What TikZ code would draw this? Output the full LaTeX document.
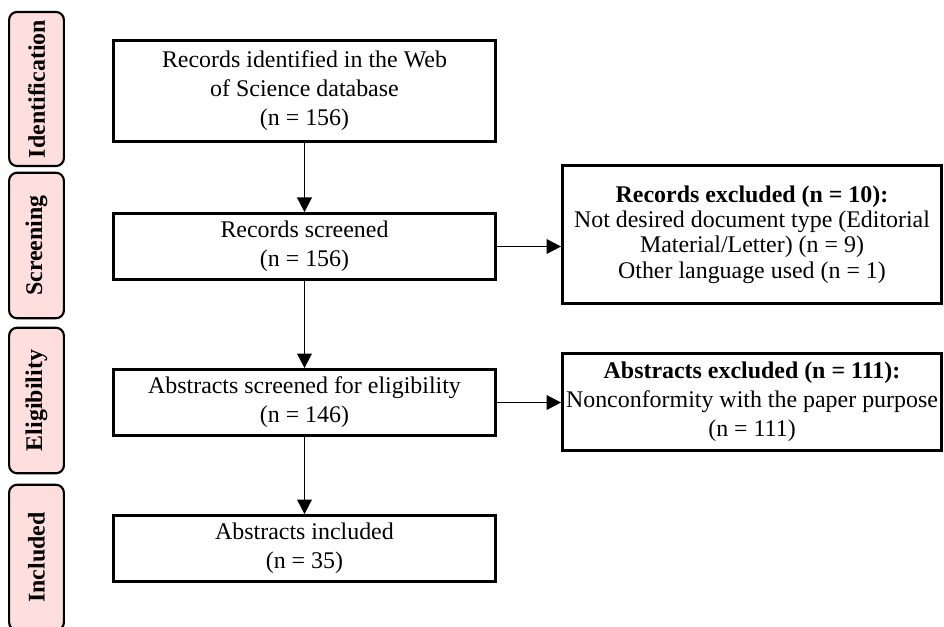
\documentclass[tikz,border=0pt]{standalone}
\usepackage{fontspec}
\setmainfont{Liberation Serif}
\usetikzlibrary{arrows.meta}
\definecolor{stagepink}{RGB}{255,222,222}
\tikzset{
    stage/.style = {rectangle, rounded corners=6pt, line width=1.6pt, draw=black, fill=stagepink, rotate=90, minimum width=3.85cm, minimum height=1.45cm, font=\bfseries},
    mybox/.style = {rectangle, line width=2pt, draw=black, align=center, minimum width=10.11cm, minimum height=1.75cm, inner sep=2pt},
    exbox/.style = {rectangle, line width=2pt, draw=black, align=center, minimum width=10.03cm, inner sep=2pt},
    edgen/.style = {-{Triangle[length=11pt,width=11pt]}, line width=1.4pt},
    every picture/.style={font issue=\fontsize{18}{21.75}},
    font issue/.style={execute at begin picture={#1\selectfont}
  }
}
\newcommand{\N}[1]{\textbf{#1}}

\begin{document}
\begin{tikzpicture}[scale=1.00]
\useasboundingbox (0,0) rectangle (24.976,16.563);
\clip (0,0) rectangle (24.976,16.563);

% stages
\node[stage] at (0.966, 14.208) (sid) {Identification};
\node[stage] at (0.966, 10.067) (ssc) {Screening};
\node[stage] at (0.966, 5.966) (sel) {Eligibility};
\node[stage] at (0.966, 1.812) (sin) {Included};

% main flow
\node[mybox, minimum height=2.68cm] at (8.056, 14.155) (rid) {Records identified in the Web\\ of Science database\\ (n = 156)};
\node[mybox] at (8.056, 10.041) (rsc) {Records screened\\ (n = 156)};
\node[mybox] at (8.056, 5.913) (asc) {Abstracts screened for eligibility\\ (n = 146)};
\node[mybox] at (8.056, 2.050) (ain) {Abstracts included\\ (n = 35)};

% exclusions
\node[exbox, minimum height=3.66cm, font=\fontsize{18}{19}\selectfont] at (19.896, 10.358) (rex) {\N{Records excluded (n = 10):}\\ Not desired document type (Editorial\\ Material/Letter) (n = 9)\\ Other language used (n = 1)};
\node[exbox, minimum height=2.57cm] at (19.896, 5.927) (aex) {\N{Abstracts excluded (n = 111):}\\ Nonconformity with the paper purpose\\ (n = 111)};
%
\draw[edgen] (rid) -- (rsc);
\draw[edgen] (rsc) -- (asc);
\draw[edgen] (asc) -- (ain);
\draw[edgen] (rsc.east) -- (rsc.east -| rex.west);
\draw[edgen] (asc.east) -- (asc.east -| aex.west);

\end{tikzpicture}
\end{document}
